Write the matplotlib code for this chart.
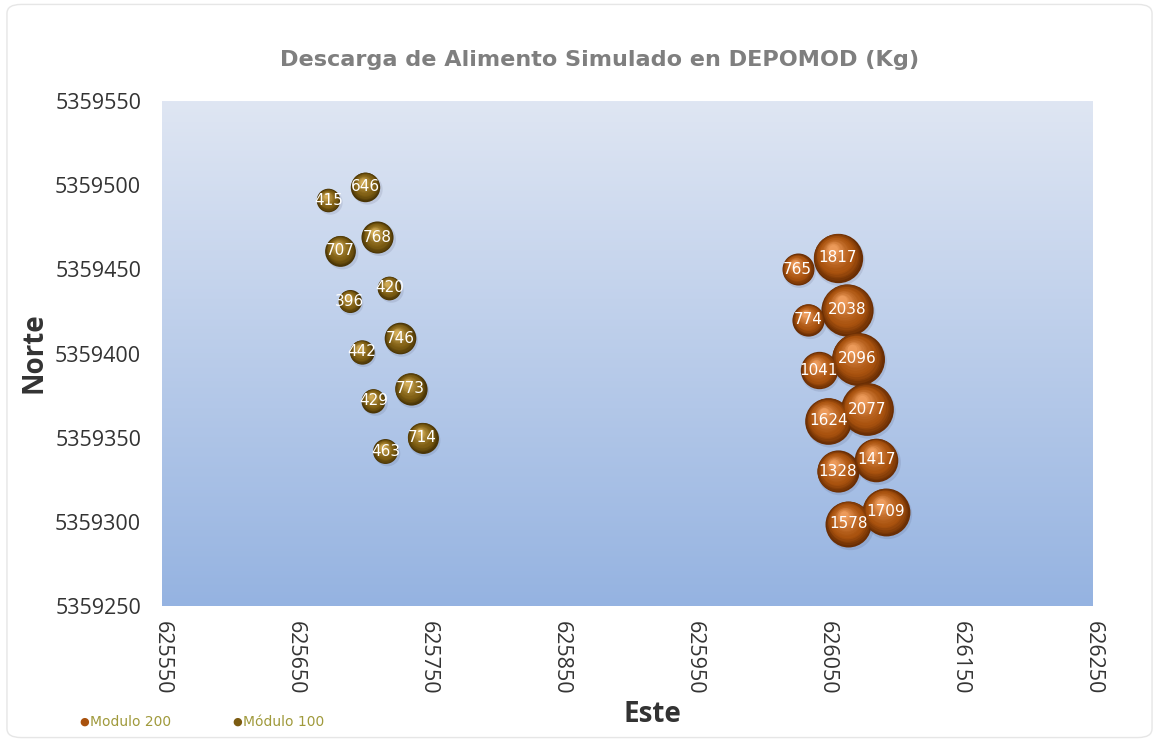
import numpy as np
import matplotlib
matplotlib.use("Agg")
import matplotlib.pyplot as plt
from matplotlib.transforms import ScaledTranslation
from matplotlib.patches import FancyBboxPatch
from matplotlib.colors import to_rgb

# ---- data ----
m200_este = [626028, 626058, 626036, 626065, 626044, 626073, 626051, 626080, 626058, 626087, 626066, 626094]
m200_norte = [5359450, 5359457, 5359420, 5359426, 5359390, 5359397, 5359360, 5359367, 5359330, 5359337, 5359299, 5359306]
m200_kg = [765, 1817, 774, 2038, 1041, 2096, 1624, 2077, 1328, 1417, 1578, 1709]

m100_este = [625703, 625675, 625712, 625684, 625721, 625691, 625729, 625700, 625737, 625709, 625746, 625718]
m100_norte = [5359499, 5359491, 5359469, 5359461, 5359439, 5359431, 5359409, 5359401, 5359379, 5359372, 5359350, 5359342]
m100_kg = [646, 415, 768, 707, 420, 396, 746, 442, 773, 429, 714, 463]

x_ticks = [625550, 625650, 625750, 625850, 625950, 626050, 626150, 626250]
y_ticks = [5359250, 5359300, 5359350, 5359400, 5359450, 5359500, 5359550]

title = "Descarga de Alimento Simulado en DEPOMOD (Kg)"
series_names = ["Modulo 200", "Módulo 100"]

# ---- figure ----
fig = plt.figure(figsize=(11.59, 7.42), dpi=100)
fig.patch.set_facecolor("white")
fig.patches.append(FancyBboxPatch((0.006, 0.006), 0.988, 0.988, boxstyle="round,pad=0,rounding_size=0.012",
                                  transform=fig.transFigure, facecolor="none", edgecolor="#e6e6e6", lw=1.0))

ax = fig.add_axes([162/1159, 1-606/742, (1093-162)/1159, (606-101)/742])

# gradient background
grad = np.linspace(0, 1, 256).reshape(-1, 1)
top = np.array(to_rgb("#dfe6f3"))
bot = np.array(to_rgb("#95b3e1"))
img = top[None, None, :] * (1 - grad[:, :, None]) + bot[None, None, :] * grad[:, :, None]
ax.imshow(img, extent=[0, 1, 0, 1], transform=ax.transAxes, aspect="auto", zorder=0)

ax.set_xlim(x_ticks[0], x_ticks[-1])
ax.set_ylim(y_ticks[0], y_ticks[-1])
ax.set_xticks(x_ticks)
ax.set_yticks(y_ticks)
ax.set_xticklabels([str(v) for v in x_ticks], rotation=-90, fontsize=15.5, family="Open Sans", color="#333333")
ax.set_yticklabels([str(v) for v in y_ticks], fontsize=15.5, family="Open Sans", color="#333333")
ax.tick_params(axis="y", length=0, pad=15)
ax.tick_params(axis="x", length=0, pad=11)
for s in ax.spines.values():
    s.set_visible(False)

maxv = max(max(m200_kg), max(m100_kg))
dmax_pt = 53 * 72 / 100.0  # diameter of largest bubble in points


def sphere(xs, ys, vals, edge, base, hi, zo):
    edge = np.array(to_rgb(edge)); base = np.array(to_rgb(base)); hi = np.array(to_rgb(hi))
    n = 16
    for x, y, v in zip(xs, ys, vals):
        d = dmax_pt * np.sqrt(v / maxv)
        # soft shadow
        ax.scatter([x], [y], s=(d * 1.03) ** 2, color="#202040", alpha=0.10, linewidths=0,
                   transform=ax.transData + ScaledTranslation(1.0 / 72, -1.5 / 72, fig.dpi_scale_trans), zorder=zo)
        for i in range(n):
            t = i / (n - 1)
            dd = d * (1 - 0.82 * t)
            if t < 0.3:
                c = edge + (base - edge) * (t / 0.3)
            else:
                c = base + (hi - base) * ((t - 0.3) / 0.7) ** 1.4
            off_x = -0.10 * d * t / 72
            off_y = 0.18 * d * t / 72
            tr = ax.transData + ScaledTranslation(off_x, off_y, fig.dpi_scale_trans)
            ax.scatter([x], [y], s=dd ** 2, color=c, linewidths=0, transform=tr, zorder=zo + 0.01 * i)
        ax.text(x, y, str(v), color="white", fontsize=11, ha="center", va="center",
                fontweight="normal", zorder=zo + 1)


sphere(m100_este, m100_norte, m100_kg, "#4a3506", "#7c5c12", "#d0aa55", 3)
sphere(m200_este, m200_norte, m200_kg, "#6a2e04", "#a9520e", "#ec9a5a", 5)

fig.text(600 / 1159, 1 - 60 / 742, title, ha="center", va="center", fontsize=16.1,
         fontweight="bold", color="#7f7f7f", family="DejaVu Sans")
fig.text(34 / 1159, 1 - 353 / 742, "Norte", rotation=90, ha="center", va="center", fontsize=20,
         fontweight="bold", color="#333333", family="Open Sans")
fig.text(652 / 1159, 1 - 715 / 742, "Este", ha="center", va="center", fontsize=20,
         fontweight="bold", color="#333333", family="Open Sans")

# legend
for (lx, name, col) in [(84, series_names[0], "#a9520e"), (237, series_names[1], "#7c5c12")]:
    fig.text(lx / 1159, 1 - 722 / 742, "\u25cf", color=col, fontsize=8, ha="center", va="center", family="DejaVu Sans")
    fig.text((lx + 6) / 1159, 1 - 722 / 742, name, color="#a09a3c", fontsize=10, ha="left", va="center",
             family="DejaVu Sans")

fig.savefig("out.png", dpi=100)
